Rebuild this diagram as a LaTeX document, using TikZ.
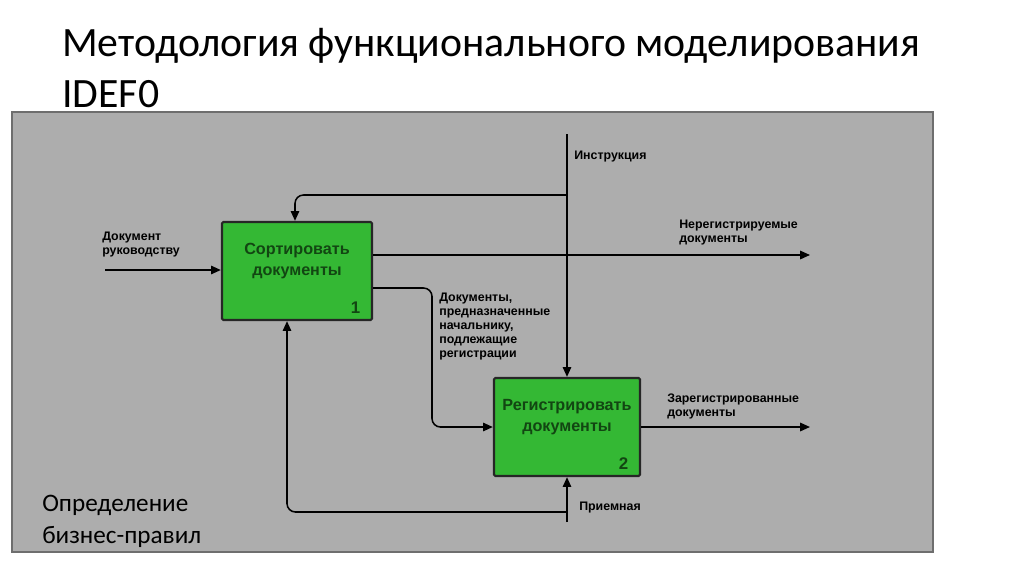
\documentclass[tikz,border=0pt]{standalone}
\usepackage{fontspec}
\setmainfont{Carlito}
\newfontfamily\diagfont{Liberation Sans}
\usepackage{tikz}
\usetikzlibrary{arrows.meta, positioning, calc}
\definecolor{panelgray}{RGB}{173, 173, 173}
\definecolor{panelframe}{RGB}{110, 110, 110}
\definecolor{boxgreen}{RGB}{52, 184, 52}
\definecolor{boxtext}{RGB}{18, 70, 18}

\tikzset{
	actbox/.style={draw=black!85, line width=1.6pt, fill=boxgreen, rounded corners=1pt,
		minimum height=2.45cm, inner sep=0pt},
	acttext/.style={font=\diagfont\bfseries\fontsize{11.5}{15}\selectfont, text=boxtext, align=center},
	actnum/.style={font=\diagfont\bfseries\fontsize{12}{14}\selectfont, text=boxtext, anchor=south east},
	flow/.style={line width=1.1pt, -{Triangle[length=7pt, width=6pt]}},
	arrlabel/.style={font=\diagfont\bfseries\fontsize{8.8}{9.9}\selectfont, align=left, inner sep=0pt}
}

\begin{document}
\begin{tikzpicture}[x=0.025cm, y=-0.025cm]
	\useasboundingbox[fill=white] (0,0) rectangle (1024,574);

	% title
	\node[font=\fontsize{29.7}{36}\selectfont, anchor=north west, align=left, inner sep=0pt] (title) at (62,28)
		{Методология функционального моделирования\\IDEF0};

	% grey panel
	\draw[fill=panelgray, draw=panelframe, line width=0.8pt] (12,112) rectangle (933,552);

	% activities
	\node[actbox, minimum width=3.75cm] (box1) at (297,271) {};
	\node[actbox, minimum width=3.65cm] (box2) at (567,427) {};
	\node[acttext] (box1txt) at ([yshift=0.25cm]box1.center) {Сортировать\\документы};
	\node[acttext] (box2txt) at ([yshift=0.25cm]box2.center) {Регистрировать\\документы};
	\node[actnum] (box1num) at ([xshift=-0.2cm, yshift=0.06cm]box1.south east) {1};
	\node[actnum] (box2num) at ([xshift=-0.2cm, yshift=0.06cm]box2.south east) {2};

	% free ends
	\coordinate (inpt) at (105,270);
	\coordinate (ctrl) at (567,134);
	\coordinate (ctrlbr) at (567,195);
	\coordinate (outA) at (810,255);
	\coordinate (midA) at (372,288);
	\coordinate (midB) at (432,427);
	\coordinate (outB) at (810,427);
	\coordinate (mech) at (567,522);
	\coordinate (mechbr) at (567,512);

	% connectors
	\draw[flow] (inpt) -- (inpt -| box1.west);
	\draw[flow] (ctrl) -- (box2.north);
	\draw[flow, rounded corners=6pt] (ctrlbr) -| ([xshift=-0.05cm]box1.north);
	\draw[flow] (outA -| box1.east) -- (outA);
	\draw[flow, rounded corners=6pt] (midA -| box1.east) -| (midB) -- (box2.west);
	\draw[flow] (box2.east) -- (outB);
	\draw[flow] (mech) -- (box2.south);
	\draw[flow, rounded corners=6pt] (mechbr) -| ([xshift=-0.25cm]box1.south);

	% labels
	\node[arrlabel, anchor=south west] (inlbl) at (102,257) {Документ\\руководству};
	\node[arrlabel, anchor=west] (ctrllbl) at (574,157) {Инструкция};
	\node[arrlabel, anchor=south west] (outAlbl) at (679,245) {Нерегистрируемые\\документы};
	\node[arrlabel, anchor=north west] (midlbl) at (439,293)
		{Документы,\\предназначенные\\начальнику,\\подлежащие\\регистрации};
	\node[arrlabel, anchor=south west] (outBlbl) at (667,419) {Зарегистрированные\\документы};
	\node[arrlabel, anchor=west] (mechlbl) at (579,508) {Приемная};

	\node[font=\fontsize{17.9}{22.8}\selectfont, anchor=north west, align=left, inner sep=0pt] (rules) at (42,495)
		{Определение\\бизнес-правил};
\end{tikzpicture}
\end{document}
